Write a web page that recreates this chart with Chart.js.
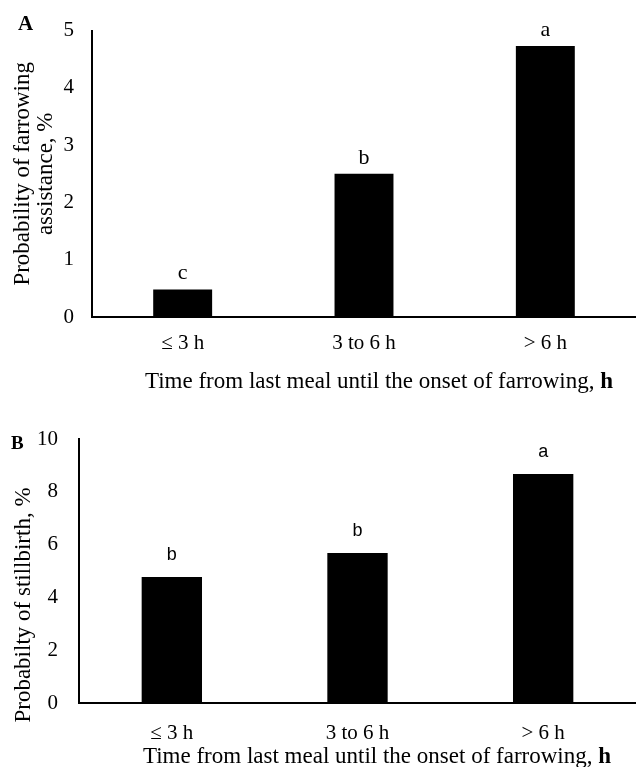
<!DOCTYPE html>
<html><head><meta charset="utf-8">
<script src="https://cdn.jsdelivr.net/npm/chart.js@4"></script>
<style>
html,body{margin:0;padding:0;background:#fff;}
#wrap{position:relative;width:636px;height:767px;overflow:hidden;}
#ca{position:absolute;left:0;top:0;}
#cb{position:absolute;left:0;top:390px;}
</style></head><body>
<div id="wrap"><canvas id="ca" width="636" height="400"></canvas><canvas id="cb" width="636" height="377"></canvas></div>
<script>
// ---- data ----
const categoriesA = ['≤ 3 h', '3 to 6 h', '> 6 h'];
const valuesA = [0.48, 2.5, 4.73];
const lettersA = ['c', 'b', 'a'];
const yTicksA = [0, 1, 2, 3, 4, 5];
const yTitleA = ['Probability of farrowing', 'assistance, %'];

const categoriesB = ['≤ 3 h', '3 to 6 h', '> 6 h'];
const valuesB = [4.77, 5.68, 8.67];
const lettersB = ['b', 'b', 'a'];
const yTicksB = [0, 2, 4, 6, 8, 10];
const yTitleB = 'Probabilty of stillbirth, %';

const xTitleText = 'Time from last meal until the onset of farrowing, ';
const xTitleBold = 'h';

const SERIF = "'Liberation Serif','Times New Roman',serif";
const SANS = "'Liberation Sans',Arial,sans-serif";

function barLetters(letters, font, offset) {
  return {
    id: 'barLetters',
    afterDatasetsDraw(chart) {
      const ctx = chart.ctx;
      const meta = chart.getDatasetMeta(0);
      ctx.save();
      ctx.fillStyle = '#000';
      ctx.font = font;
      ctx.textAlign = 'center';
      ctx.textBaseline = 'middle';
      meta.data.forEach((bar, i) => {
        ctx.fillText(letters[i], bar.x, bar.y - offset);
      });
      ctx.restore();
    }
  };
}

function decorations(cfg) {
  return {
    id: 'decor',
    afterDraw(chart) {
      const ctx = chart.ctx;
      ctx.save();
      ctx.fillStyle = '#000';
      ctx.textBaseline = 'middle';
      // panel letter
      ctx.font = cfg.panelFont;
      ctx.textAlign = 'left';
      ctx.fillText(cfg.panel, cfg.panelX, cfg.panelY);
      // x-axis title with bold unit
      const nf = '23px ' + SERIF, bf = 'bold 23px ' + SERIF;
      ctx.font = nf; const w1 = ctx.measureText(xTitleText).width;
      ctx.font = bf; const w2 = ctx.measureText(xTitleBold).width;
      const x0 = cfg.xTitleCenter - (w1 + w2) / 2;
      ctx.font = nf; ctx.fillText(xTitleText, x0, cfg.xTitleY);
      ctx.font = bf; ctx.fillText(xTitleBold, x0 + w1, cfg.xTitleY);
      // optional custom y title
      if (cfg.yTitle) {
        ctx.translate(cfg.yTitleX, cfg.yTitleY);
        ctx.rotate(-Math.PI / 2);
        ctx.font = '23px ' + SERIF;
        ctx.textAlign = 'center';
        ctx.fillText(cfg.yTitle, 0, 0);
      }
      ctx.restore();
    }
  };
}

function makeChart(el, o) {
  return new Chart(el, {
    type: 'bar',
    data: {
      labels: o.categories,
      datasets: [{ data: o.values, backgroundColor: '#000', borderWidth: 0,
        categoryPercentage: 1, barPercentage: 0.325 }]
    },
    options: {
      responsive: false,
      animation: false,
      layout: { padding: { top: o.top, left: 0, right: o.right, bottom: 0 } },
      plugins: { legend: { display: false }, tooltip: { enabled: false } },
      scales: {
        x: {
          type: 'category',
          offset: true,
          grid: { display: false, drawTicks: false },
          border: { display: true, color: '#000', width: 2 },
          ticks: { color: '#000', font: { family: SERIF, size: 21 }, padding: o.xTickPad, maxRotation: 0 },
          afterFit: s => { s.height = o.xHeight; }
        },
        y: {
          min: o.yTicks[0],
          max: o.yTicks[o.yTicks.length - 1],
          grid: { display: false, drawTicks: false },
          border: { display: true, color: '#000', width: 2 },
          ticks: { color: '#000', stepSize: o.yTicks[1] - o.yTicks[0], font: { family: SERIF, size: 21 }, padding: o.yTickPad },
          title: o.yTitle ? { display: true, text: o.yTitle, color: '#000', font: { family: SERIF, size: 23, lineHeight: 1.0 }, padding: { top: 11, bottom: 0 } } : { display: false },
          afterFit: s => { s.width = o.yWidth; }
        }
      }
    },
    plugins: o.plugins
  });
}

makeChart(document.getElementById('ca'), {
  categories: categoriesA, values: valuesA, yTicks: yTicksA, yTitle: yTitleA,
  top: 29, right: -3, xHeight: 83, yWidth: 92, xTickPad: 14, yTickPad: 18,
  plugins: [barLetters(lettersA, '22px ' + SERIF, 16),
    decorations({ panel: 'A', panelFont: 'bold 21px ' + SERIF, panelX: 18, panelY: 25, xTitleCenter: 379, xTitleY: 382 })]
});

makeChart(document.getElementById('cb'), {
  categories: categoriesB, values: valuesB, yTicks: yTicksB, yTitle: null,
  top: 49, right: -4, xHeight: 64, yWidth: 79, xTickPad: 18, yTickPad: 21,
  plugins: [barLetters(lettersB, '18px ' + SANS, 22),
    decorations({ panel: 'B', panelFont: 'bold 19px ' + SERIF, panelX: 11, panelY: 54, xTitleCenter: 377, xTitleY: 367, yTitle: yTitleB, yTitleX: 24, yTitleY: 215 })]
});
</script>
</body></html>
